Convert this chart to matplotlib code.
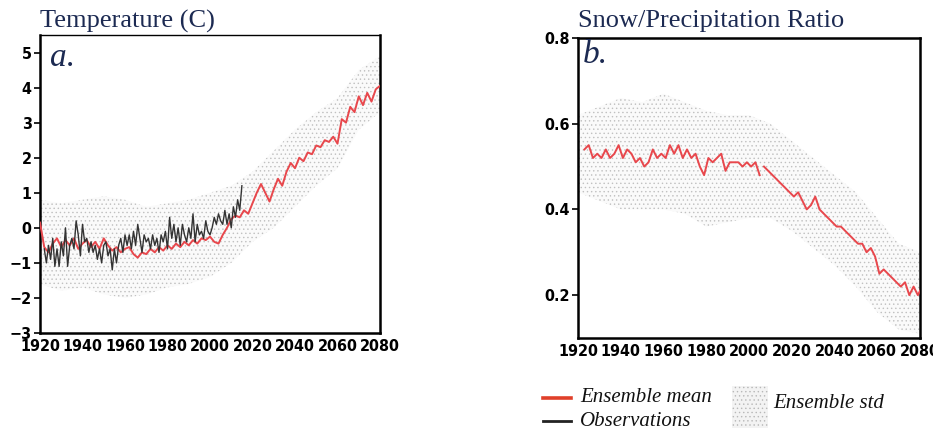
import numpy as np
import matplotlib
matplotlib.use("Agg")
import matplotlib.pyplot as plt
from matplotlib.lines import Line2D
from matplotlib.patches import Rectangle
from matplotlib.font_manager import FontProperties, fontManager

# ---------------- data ----------------
# Panel a: temperature anomaly (C)
temp_years = list(range(1920, 2081, 2))
temp_mean = [0.15, -0.55, -0.7, -0.45, -0.3, -0.55, -0.35, -0.5, -0.3, -0.6,
             -0.45, -0.35, -0.55, -0.4, -0.6, -0.3, -0.5, -0.65, -0.55, -0.7,
             -0.6, -0.55, -0.75, -0.85, -0.7, -0.75, -0.6, -0.7, -0.55, -0.65,
             -0.5, -0.6, -0.45, -0.55, -0.4, -0.5, -0.35, -0.45, -0.3, -0.35,
             -0.25, -0.4, -0.45, -0.2, 0.0, 0.25, 0.35, 0.3, 0.5, 0.4,
             0.7, 1.0, 1.25, 1.0, 0.75, 1.1, 1.4, 1.2, 1.6, 1.85,
             1.7, 2.0, 1.9, 2.15, 2.1, 2.35, 2.3, 2.5, 2.45, 2.6,
             2.4, 3.1, 3.0, 3.45, 3.3, 3.75, 3.5, 3.85, 3.6, 3.95, 4.05]

obs_years = list(range(1922, 2016))
obs_temp = [-0.6, -1.0, -0.5, -0.9, -0.3, -1.1, -0.6, -1.1, -0.4, -0.8,
            0.0, -1.1, -0.5, -0.3, -0.6, 0.2, -0.2, -0.8, 0.1, -0.4,
            -0.3, -0.7, -0.4, -0.7, -0.5, -0.9, -0.6, -1.0, -0.5, -0.4,
            -0.8, -0.6, -1.2, -0.6, -1.0, -0.5, -0.3, -0.7, -0.2, -0.5,
            -0.2, -0.6, -0.1, -0.5, 0.1, -0.3, -0.7, -0.2, -0.4, -0.3,
            -0.6, -0.2, -0.5, -0.3, -0.7, -0.2, -0.4, -0.1, -0.6, 0.3,
            -0.3, 0.1, -0.4, 0.0, -0.5, 0.1, -0.2, -0.4, 0.0, -0.3,
            0.4, -0.4, 0.1, -0.2, -0.1, -0.3, 0.2, -0.1, -0.2, 0.0,
            0.3, 0.1, 0.4, 0.2, 0.1, 0.5, 0.1, 0.4, 0.0, 0.6,
            0.3, 0.8, 0.5, 1.2]

spread_years = list(range(1920, 2081, 10))
temp_upper = [0.8, 0.7, 0.8, 0.9, 0.8, 0.6, 0.7, 0.8, 1.0, 1.2, 1.6, 2.2, 2.8, 3.3, 3.7, 4.5, 4.9]
temp_lower = [-1.6, -1.8, -1.7, -1.9, -2.0, -1.9, -1.7, -1.6, -1.4, -1.0, -0.4, 0.0, 0.6, 1.2, 1.7, 2.8, 3.3]

# Panel b: snow / precipitation ratio
snow_hist_years = list(range(1923, 2006, 2))
snow_hist = [0.54, 0.55, 0.52, 0.53, 0.52, 0.54, 0.52, 0.53, 0.55, 0.52,
             0.54, 0.53, 0.51, 0.52, 0.50, 0.51, 0.54, 0.52, 0.53, 0.52,
             0.55, 0.53, 0.55, 0.52, 0.54, 0.52, 0.53, 0.50, 0.48, 0.52,
             0.51, 0.52, 0.53, 0.49, 0.51, 0.51, 0.51, 0.50, 0.51, 0.50,
             0.51, 0.48]
snow_fut_years = list(range(2007, 2080, 2)) + [2080]
snow_fut = [0.50, 0.49, 0.48, 0.47, 0.46, 0.45, 0.44, 0.43, 0.44, 0.42,
            0.40, 0.41, 0.43, 0.40, 0.39, 0.38, 0.37, 0.36, 0.36, 0.35,
            0.34, 0.33, 0.32, 0.32, 0.30, 0.31, 0.29, 0.25, 0.26, 0.25,
            0.24, 0.23, 0.22, 0.23, 0.20, 0.22, 0.20, 0.21]
snow_upper = [0.62, 0.64, 0.66, 0.65, 0.67, 0.65, 0.63, 0.62, 0.62, 0.60, 0.56, 0.52, 0.48, 0.44, 0.38, 0.32, 0.30]
snow_lower = [0.44, 0.42, 0.40, 0.40, 0.40, 0.39, 0.36, 0.37, 0.38, 0.38, 0.35, 0.31, 0.27, 0.22, 0.16, 0.12, 0.11]

x_ticks = list(range(1920, 2081, 20))
temp_ticks = [-3, -2, -1, 0, 1, 2, 3, 4, 5]
snow_ticks = [0.2, 0.4, 0.6, 0.8]

# ---------------- style ----------------
W, H = 933, 446
fig = plt.figure(figsize=(W / 100, H / 100), dpi=100)
plt.rcParams['hatch.linewidth'] = 0.5

RED = '#e8474c'
NAVY = '#1c2a52'
SERIF = ['Liberation Serif', 'DejaVu Serif']

names = {f.name for f in fontManager.ttflist}
if 'Liberation Sans Narrow' in names:
    TICKFP = FontProperties(family='Liberation Sans Narrow', weight='bold', size=12.5)
else:
    TICKFP = FontProperties(family='DejaVu Sans', weight='bold', stretch='condensed', size=11.5)


def ax_box(left, top, right, bottom):
    return [left / W, 1 - bottom / H, (right - left) / W, (bottom - top) / H]


def style_axes(ax):
    for s in ax.spines.values():
        s.set_color('black')
        s.set_linewidth(1.8)
    ax.spines['top'].set_linewidth(1.0)
    ax.tick_params(axis='both', direction='out', length=4, width=1.2, pad=2)
    ax.tick_params(axis='x', length=0, pad=4)
    for lab in ax.get_xticklabels() + ax.get_yticklabels():
        lab.set_fontproperties(TICKFP)


def spread(ax, x, lo, hi):
    ax.fill_between(x, lo, hi, facecolor='#fafafa', edgecolor='#c0c0c0',
                    hatch='....', linewidth=0, zorder=1)


# Panel a
axa = fig.add_axes(ax_box(40, 35, 380, 333))
spread(axa, spread_years, temp_lower, temp_upper)
axa.plot(temp_years, temp_mean, color=RED, lw=1.4, zorder=3)
axa.plot(obs_years, obs_temp, color='#333333', lw=1.0, zorder=4)
axa.set_xlim(1920, 2080)
axa.set_ylim(-3, 5.5)
axa.set_xticks(x_ticks)
axa.set_yticks(temp_ticks)
style_axes(axa)

# Panel b
axb = fig.add_axes(ax_box(578, 38, 920, 338))
spread(axb, spread_years, snow_lower, snow_upper)
axb.plot(snow_hist_years, snow_hist, color=RED, lw=1.4, zorder=3)
axb.plot(snow_fut_years, snow_fut, color=RED, lw=1.4, zorder=3)
axb.set_xlim(1920, 2080)
axb.set_ylim(0.1, 0.8)
axb.set_xticks(x_ticks)
axb.set_yticks(snow_ticks)
axb.set_yticklabels([f"{v:.1f}" for v in snow_ticks])
style_axes(axb)
axb.spines['top'].set_linewidth(1.8)

# Titles and panel letters
fig.text(40 / W, 1 - 21 / H, 'Temperature (C)', family=SERIF, size=19, color=NAVY, va='center', ha='left')
fig.text(578 / W, 1 - 21 / H, 'Snow/Precipitation Ratio', family=SERIF, size=19, color=NAVY, va='center', ha='left')
fig.text(50 / W, 1 - 58 / H, 'a.', family=SERIF, style='italic', size=24, color=NAVY, va='center', ha='left')
fig.text(583 / W, 1 - 55 / H, 'b.', family=SERIF, style='italic', size=24, color=NAVY, va='center', ha='left')

# Legend
fig.add_artist(Line2D([543 / W, 571 / W], [1 - 398 / H] * 2, color='#e0402a', lw=2.6))
fig.add_artist(Line2D([543 / W, 571 / W], [1 - 421 / H] * 2, color='#222222', lw=2.0))
fig.text(580 / W, 1 - 398 / H, 'Ensemble mean', family=SERIF, style='italic', size=15, color='#111111', va='center')
fig.text(580 / W, 1 - 421 / H, 'Observations', family=SERIF, style='italic', size=15, color='#111111', va='center')
fig.add_artist(Rectangle((732 / W, 1 - 428 / H), 36 / W, 42 / H, transform=fig.transFigure,
                         facecolor='#f3f3f3', edgecolor='#b8b8b8', hatch='....', linewidth=0))
fig.text(773 / W, 1 - 404 / H, 'Ensemble std', family=SERIF, style='italic', size=15, color='#111111', va='center')

fig.savefig('out.png', dpi=100)
